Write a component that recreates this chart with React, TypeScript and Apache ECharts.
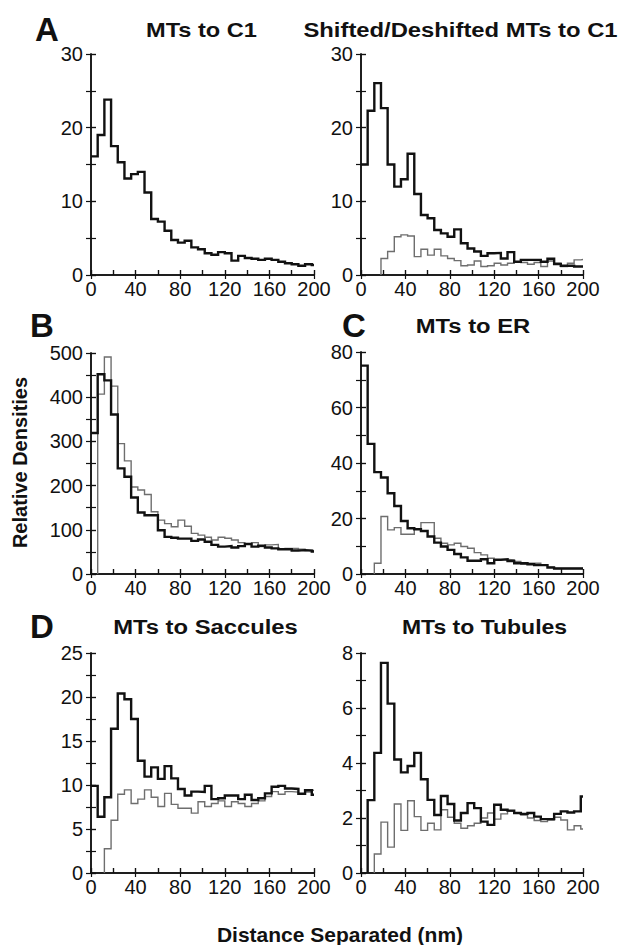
import React, { useEffect, useRef } from "react";
import * as echarts from "echarts";

// ---- data ----
const binStarts = [0, 6, 12, 18, 24, 30, 36, 42, 48, 54, 60, 66, 72, 78, 84, 90, 96, 102, 108, 114, 120, 126, 132, 138, 144, 150, 156, 162, 168, 174, 180, 186, 192, 198];
const xEnd = 200;

const aBlack = [16.1, 19.0, 23.8, 17.5, 15.3, 13.1, 13.7, 14.0, 11.2, 7.6, 7.25, 6.0, 4.75, 4.4, 4.65, 3.75, 3.5, 2.95, 2.75, 3.1, 2.95, 1.95, 2.6, 2.3, 2.2, 2.05, 2.2, 2.05, 1.8, 1.6, 1.45, 1.25, 1.45, 1.35];

const a2Black = [15.0, 22.3, 26.05, 22.65, 15.0, 12.0, 13.0, 16.45, 11.0, 8.15, 7.7, 6.1, 5.65, 5.2, 6.2, 4.3, 3.6, 3.2, 2.6, 2.95, 3.0, 2.25, 3.1, 1.8, 2.05, 2.05, 2.05, 1.8, 2.2, 1.5, 1.25, 1.25, 1.15, 1.15];
const a2Gray = [0, 0, 0, 2.25, 3.2, 5.2, 5.45, 5.3, 2.5, 3.5, 2.7, 3.5, 2.6, 2.25, 1.95, 1.25, 1.35, 1.9, 1.15, 1.25, 1.6, 1.35, 1.6, 1.8, 1.7, 1.45, 1.7, 1.15, 1.9, 1.6, 1.15, 1.6, 2.05, 2.1];

const bBlack = [319, 452, 438, 361, 239, 220, 173, 139, 133, 133, 99, 84, 82, 80, 80, 75, 78, 73, 66, 62, 63, 60, 63, 68, 62, 64, 60, 58, 56, 56, 53, 54, 53, 51];
const bGray = [0, 407, 491, 425, 295, 256, 197, 190, 180, 141, 122, 114, 107, 122, 108, 92, 88, 83, 77, 83, 81, 77, 71, 67, 71, 62, 66, 67, 56, 58, 58, 56, 53, 53];

const cBlack = [75.1, 46.9, 36.7, 34.8, 29.1, 24.5, 19.1, 16.5, 16.1, 15.5, 13.5, 11.3, 9.9, 8.7, 7.2, 6.0, 4.8, 4.8, 5.3, 3.9, 5.1, 5.3, 4.7, 3.9, 3.9, 3.5, 3.2, 3.2, 2.3, 2.0, 2.0, 2.0, 2.0, 2.0];
const cGray = [0, 0, 3.9, 20.7, 15.9, 16.7, 14.3, 14.3, 16.1, 18.5, 18.5, 12.9, 11.1, 10.5, 11.1, 9.9, 9.3, 7.7, 6.9, 5.7, 5.3, 5.3, 5.1, 4.5, 3.5, 3.9, 3.9, 3.2, 2.6, 2.0, 2.0, 2.0, 2.0, 2.0];

const dBlack = [9.9, 6.4, 8.6, 16.4, 20.4, 19.75, 17.5, 12.75, 10.95, 12.0, 10.7, 12.15, 10.75, 9.55, 8.8, 9.25, 9.2, 9.9, 8.4, 8.5, 8.8, 8.8, 8.4, 8.9, 8.3, 8.5, 9.05, 9.8, 9.9, 9.6, 9.55, 9.0, 9.4, 8.9];
const dGray = [0, 0, 2.75, 6.0, 8.95, 9.45, 7.9, 8.4, 9.45, 8.6, 7.55, 9.05, 7.8, 7.35, 7.35, 6.8, 8.1, 7.55, 7.9, 8.2, 7.55, 8.1, 7.9, 7.55, 7.9, 8.2, 8.7, 9.25, 8.95, 9.25, 9.2, 9.0, 9.2, 9.4];

const d2Black = [0, 2.65, 4.37, 7.64, 6.16, 4.13, 3.66, 3.89, 4.37, 3.41, 2.66, 2.11, 2.8, 2.51, 1.91, 2.18, 2.54, 2.36, 1.87, 1.75, 2.48, 2.3, 2.27, 2.18, 2.15, 2.18, 2.05, 1.96, 1.96, 2.15, 2.24, 2.2, 2.24, 2.78];
const d2Gray = [0, 0, 0.69, 1.85, 0.94, 2.51, 1.55, 2.63, 2.05, 1.55, 1.81, 1.57, 2.3, 2.03, 1.81, 1.63, 1.72, 1.81, 2.0, 2.18, 1.96, 2.15, 2.24, 2.18, 2.11, 2.0, 1.91, 1.87, 1.93, 2.03, 1.93, 1.57, 1.72, 1.6];

const titles = ["MTs to C1", "Shifted/Deshifted MTs to C1", "MTs to ER", "MTs to Saccules", "MTs to Tubules"];
const panelLetters = ["A", "B", "C", "D"];
const yAxisTitle = "Relative Densities";
const xAxisTitle = "Distance Separated (nm)";

// ---- layout ----
const FONT = '"Liberation Sans", Arial, Helvetica, sans-serif';
const INK = "#111";
const GRAY = "#6e6e6e";

const panels = [
  { left: 91, top: 54, width: 223, height: 221, yMax: 30, minor: 5, major: 10, black: aBlack, gray: null },
  { left: 361, top: 54, width: 222, height: 221, yMax: 30, minor: 5, major: 10, black: a2Black, gray: a2Gray },
  { left: 91, top: 353, width: 223, height: 221, yMax: 500, minor: 50, major: 100, black: bBlack, gray: bGray },
  { left: 361, top: 352, width: 222, height: 222, yMax: 80, minor: 10, major: 20, black: cBlack, gray: cGray },
  { left: 91, top: 653, width: 223, height: 220, yMax: 25, minor: 2.5, major: 5, black: dBlack, gray: dGray },
  { left: 361, top: 653, width: 222, height: 220, yMax: 8, minor: 1, major: 2, black: d2Black, gray: d2Gray },
];

function buildSteps(vals: number[]) {
  let k = 0;
  while (k < vals.length && vals[k] === 0) k++;
  const pts: number[][] = [];
  if (k > 0) pts.push([binStarts[k], 0]);
  for (let i = k; i < vals.length; i++) pts.push([binStarts[i], vals[i]]);
  pts.push([xEnd, vals[vals.length - 1]]);
  return pts;
}

function buildOption() {
  const grid: any[] = [];
  const xAxis: any[] = [];
  const yAxis: any[] = [];
  const series: any[] = [];
  const tickStyle = { color: INK, width: 1.2 };
  const lineStyle = { color: INK, width: 1.5 };

  panels.forEach((p, i) => {
    grid.push({ left: p.left, top: p.top, width: p.width, height: p.height });
    grid.push({ left: p.left, top: p.top, width: p.width, height: p.height });
    const gMain = 2 * i;
    const gOver = 2 * i + 1;
    // x axes
    xAxis.push({
      gridIndex: gMain, type: "value", min: 0, max: xEnd, interval: 20, position: "bottom",
      axisLine: { show: true, lineStyle },
      axisTick: { show: true, inside: true, length: 5, lineStyle: tickStyle },
      axisLabel: {
        show: true, margin: 4, fontSize: 20, color: INK, fontFamily: FONT,
        formatter: (v: number) => (v % 40 === 0 ? String(v) : ""),
      },
      splitLine: { show: false },
    });
    xAxis.push({
      gridIndex: gMain, type: "value", min: 0, max: xEnd, interval: 20, position: "top",
      axisLine: { show: true, lineStyle },
      axisTick: { show: true, inside: false, length: 5, lineStyle: tickStyle },
      axisLabel: { show: false },
      splitLine: { show: false },
    });
    xAxis.push({
      gridIndex: gOver, type: "value", min: 0, max: xEnd, interval: 40, position: "bottom",
      axisLine: { show: false },
      axisTick: { show: true, inside: false, length: 4, lineStyle: tickStyle },
      axisLabel: { show: false },
      splitLine: { show: false },
    });
    // y axes
    yAxis.push({
      gridIndex: gMain, type: "value", min: 0, max: p.yMax, interval: p.minor, position: "left",
      axisLine: { show: true, lineStyle },
      axisTick: { show: true, inside: false, length: 5, lineStyle: tickStyle },
      axisLabel: {
        show: true, margin: 8, fontSize: 20, color: INK, fontFamily: FONT,
        formatter: (v: number) => (Math.abs(v / p.major - Math.round(v / p.major)) < 1e-6 ? String(v) : ""),
      },
      splitLine: { show: false },
    });
    yAxis.push({
      gridIndex: gMain, type: "value", min: 0, max: p.yMax, interval: p.minor, position: "right",
      axisLine: { show: true, lineStyle },
      axisTick: { show: true, inside: false, length: 5, lineStyle: tickStyle },
      axisLabel: { show: false },
      splitLine: { show: false },
    });
    yAxis.push({
      gridIndex: gOver, type: "value", min: 0, max: p.yMax, interval: p.major, position: "left",
      axisLine: { show: false },
      axisTick: { show: true, inside: true, length: 5, lineStyle: tickStyle },
      axisLabel: { show: false },
      splitLine: { show: false },
    });

    if (p.gray) {
      series.push({
        type: "line", step: "end", xAxisIndex: 3 * i, yAxisIndex: 3 * i, symbol: "none", silent: true,
        data: buildSteps(p.gray), lineStyle: { color: GRAY, width: 1.4, join: "miter" }, z: 2, clip: true,
      });
    }
    series.push({
      type: "line", step: "end", xAxisIndex: 3 * i, yAxisIndex: 3 * i, symbol: "none", silent: true,
      data: buildSteps(p.black), lineStyle: { color: INK, width: 2.4, join: "miter" }, z: 3, clip: true,
    });
  });

  const txt = (text: string, x: number, y: number, size: number, scaleX = 1, rotation = 0) => ({
    type: "text", x, y, scaleX, rotation, silent: true,
    style: {
      text, fill: INK, font: `bold ${size}px ${FONT}`,
      textAlign: "center", textVerticalAlign: "middle",
    },
  });

  const graphic = [
    txt(panelLetters[0], 47, 29, 33),
    txt(panelLetters[1], 42, 325, 33),
    txt(panelLetters[2], 354, 325, 33),
    txt(panelLetters[3], 42, 626, 33),
    txt(titles[0], 201.5, 30, 20, 1.18),
    txt(titles[1], 460.5, 30, 20, 1.19),
    txt(titles[2], 473, 326, 20, 1.19),
    txt(titles[3], 205.5, 627, 20, 1.19),
    txt(titles[4], 484.5, 627, 20, 1.15),
    txt(yAxisTitle, 19.5, 462.5, 20, 1, Math.PI / 2),
    txt(xAxisTitle, 340, 935, 20, 1.05),
  ];

  return {
    animation: false,
    backgroundColor: "#ffffff",
    grid, xAxis, yAxis, series, graphic,
  };
}

export default function App() {
  const ref = useRef<HTMLDivElement>(null);
  useEffect(() => {
    if (!ref.current) return;
    const chart = echarts.init(ref.current, undefined, { renderer: "svg" });
    chart.setOption(buildOption() as any);
    return () => chart.dispose();
  }, []);
  return (
    <div
      ref={ref}
      style={{ position: "absolute", left: 0, top: 0, width: 621, height: 945, background: "#fff" }}
    />
  );
}
